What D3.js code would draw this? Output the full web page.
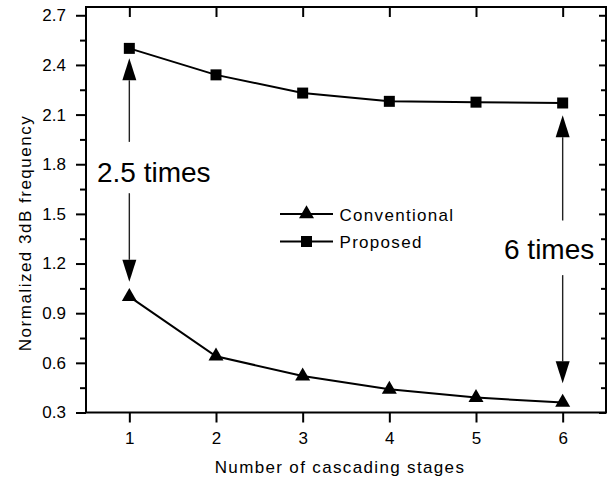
<!DOCTYPE html>
<html>
<head>
<meta charset="utf-8">
<script src="https://cdn.jsdelivr.net/npm/d3@7"></script>
<style>
  html, body { margin: 0; padding: 0; background: #fff; }
  svg { display: block; }
  text { font-family: "Liberation Sans", Arial, sans-serif; fill: #000; }
</style>
</head>
<body>
<svg id="chart" width="615" height="482"></svg>
<script>
// ---- data ----
const stages = [1, 2, 3, 4, 5, 6];
const conventional = [1.00, 0.64, 0.52, 0.44, 0.39, 0.36];
const proposed = [2.50, 2.34, 2.23, 2.18, 2.175, 2.17];
const yTicks = [0.3, 0.6, 0.9, 1.2, 1.5, 1.8, 2.1, 2.4, 2.7];
const yMinorTicks = [0.45, 0.75, 1.05, 1.35, 1.65, 1.95, 2.25, 2.55];
const xTicks = [1, 2, 3, 4, 5, 6];
const seriesNames = ["Conventional", "Proposed"];
// annotation arrows: stage, start value, tip value
const arrowStages = [1, 1, 6, 6];
const arrowFrom = [1.935, 1.625, 1.46, 1.13];
const arrowTo = [2.44, 1.09, 2.096, 0.476];
const annotationLabels = ["2.5 times", "6 times"];

// ---- layout ----
const svg = d3.select("#chart");
const L = 86, R = 606, T = 7, B = 412.5;
const x = d3.scaleLinear().domain([0.5, 6.5]).range([L, R]);
const y = d3.scaleLinear().domain([0.3, 2.75]).range([B, T]);

// frame
svg.append("rect").attr("x", L).attr("y", T).attr("width", R - L).attr("height", B - T)
  .attr("fill", "none").attr("stroke", "#000").attr("stroke-width", 2);

// left axis (outward ticks)
const left = svg.append("g").attr("transform", `translate(${L},0)`)
  .call(d3.axisLeft(y).tickValues(yTicks).tickFormat(d3.format(".1f")).tickSize(10).tickPadding(10));
svg.append("g").attr("transform", `translate(${L},0)`)
  .call(d3.axisLeft(y).tickValues(yMinorTicks).tickFormat("").tickSize(6));
// right axis (inward ticks)
svg.append("g").attr("transform", `translate(${R},0)`)
  .call(d3.axisRight(y).tickValues(yTicks).tickFormat("").tickSize(-7));
svg.append("g").attr("transform", `translate(${R},0)`)
  .call(d3.axisRight(y).tickValues(yMinorTicks).tickFormat("").tickSize(-5));
// bottom axis (outward)
svg.append("g").attr("transform", `translate(0,${B})`)
  .call(d3.axisBottom(x).tickValues(xTicks).tickFormat(d3.format("d")).tickSize(10).tickPadding(9));
// top axis (inward)
svg.append("g").attr("transform", `translate(0,${T})`)
  .call(d3.axisTop(x).tickValues(xTicks).tickFormat("").tickSize(-10));

svg.selectAll(".domain").remove();
svg.selectAll(".tick line").attr("stroke", "#000").attr("stroke-width", 2);
svg.selectAll(".tick text").attr("font-size", 17).attr("fill", "#000")
  .style("font-family", "'Liberation Sans', Arial, sans-serif");

// axis titles
svg.append("text").attr("x", 340).attr("y", 472.5).attr("text-anchor", "middle")
  .attr("font-size", 17).style("letter-spacing", "1.35px").text("Number of cascading stages");
svg.append("text").attr("transform", "translate(30.5,233) rotate(-90)").attr("text-anchor", "middle")
  .attr("font-size", 17).style("letter-spacing", "1.5px").text("Normalized 3dB frequency");

// symbols
const tri = "M0,-8.7L7.5,4.3L-7.5,4.3Z";
const sq = "M-5.5,-5.5H5.5V5.5H-5.5Z";
const line = d3.line().x(d => x(d[0])).y(d => y(d[1]));

const convData = stages.map((s, i) => [s, conventional[i]]);
const propData = stages.map((s, i) => [s, proposed[i]]);

svg.append("path").datum(convData).attr("d", line).attr("fill", "none").attr("stroke", "#000").attr("stroke-width", 2);
svg.append("path").datum(propData).attr("d", line).attr("fill", "none").attr("stroke", "#000").attr("stroke-width", 2);
svg.selectAll(".tri").data(convData).enter().append("path")
  .attr("d", tri).attr("transform", d => `translate(${x(d[0])},${y(d[1])})`).attr("fill", "#000");
svg.selectAll(".sq").data(propData).enter().append("path")
  .attr("d", sq).attr("transform", d => `translate(${x(d[0])},${y(d[1])})`).attr("fill", "#000");

// arrows
arrowStages.forEach((s, i) => {
  const px = x(s), y0 = y(arrowFrom[i]), y1 = y(arrowTo[i]);
  const dir = y1 < y0 ? -1 : 1;
  const head = 22, hw = 7;
  const yb = y1 - dir * head;
  svg.append("line").attr("x1", px).attr("x2", px).attr("y1", y0).attr("y2", yb)
    .attr("stroke", "#222").attr("stroke-width", 1.4);
  svg.append("path").attr("d", `M${px},${y1}L${px - hw},${yb}L${px + hw},${yb}Z`).attr("fill", "#000");
});

svg.append("text").attr("x", 97).attr("y", 182).attr("font-size", 28).text(annotationLabels[0]);
svg.append("text").attr("x", 504).attr("y", 259).attr("font-size", 28).text(annotationLabels[1]);

// legend
const legY = [214, 241.5];
seriesNames.forEach((name, i) => {
  const g = svg.append("g");
  g.append("line").attr("x1", 280).attr("x2", 333).attr("y1", legY[i]).attr("y2", legY[i])
    .attr("stroke", "#000").attr("stroke-width", 2);
  g.append("path").attr("d", i === 0 ? tri : sq).attr("transform", `translate(306.5,${legY[i]})`).attr("fill", "#000");
  g.append("text").attr("x", 339.5).attr("y", legY[i] + 6.5).attr("font-size", 17)
    .style("letter-spacing", "1.3px").text(name);
});
</script>
</body>
</html>
